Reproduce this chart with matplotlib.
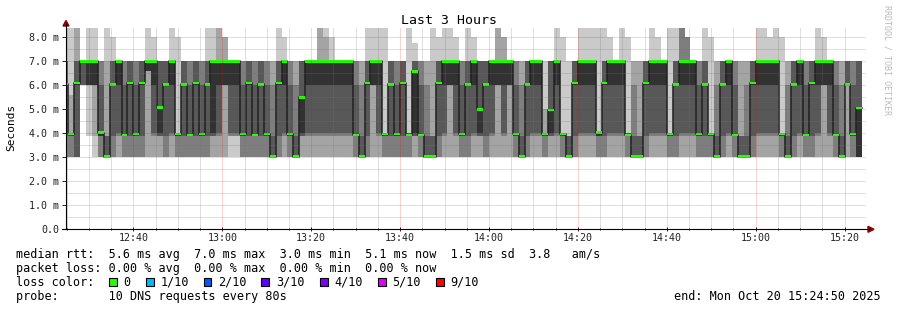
import numpy as np
import matplotlib
matplotlib.use('Agg')
import matplotlib.pyplot as plt
from matplotlib.patches import Polygon, Rectangle
from matplotlib.lines import Line2D

# tiempo en minutos desde las 12:00, una muestra cada 80 s
start_min = 24.0
step_min = 80 / 60.0
view = (24 + 50 / 60.0, 204 + 50 / 60.0)   # 12:24:50 .. 15:24:50

# 10 pings ordenados por columna (ms); ping6 es la mediana
ping1 = [3, 3, 3, 6, 3.9, 3, 3, 3, 3, 3,
         3, 3, 3, 3, 3, 3, 3, 3, 3, 3,
         3, 3, 3, 3, 3, 3, 3, 3, 3, 3,
         3, 3, 3, 3, 3, 3, 3, 3, 3, 3,
         3, 3, 3, 3, 3, 3, 3, 3, 3, 3,
         3, 3, 3, 3, 3, 3, 3, 3, 3, 3,
         3, 3, 3, 3, 3, 3, 3, 3, 3, 3,
         3, 3, 3, 3, 3, 3, 3, 3, 3, 3,
         3, 3, 3, 3, 3, 3, 3, 3, 3, 3,
         3, 3, 3, 3, 3, 3, 3, 3, 3, 3,
         3, 3, 3, 3, 3, 3, 3, 3, 3, 3,
         3, 3, 3, 3, 3, 3, 3, 3, 3, 3,
         3, 3, 3, 3, 3, 3, 3, 3, 3, 3,
         3, 3, 3, 3, 3]
ping2 = [3, 3, 3, 6, 6, 3.9, 3, 3, 3, 3,
         3, 3, 3, 3, 3, 3, 3, 3, 3, 3,
         3, 3, 3, 3, 3, 3, 3, 3, 3.9, 3.9,
         3, 3, 3, 3, 3, 3, 3, 3, 3, 3,
         3, 3, 3, 3, 3, 3, 3, 3, 3, 3,
         3, 3, 3, 3, 3, 3, 3, 3, 3, 3,
         3, 3, 3, 3, 3, 3, 3, 3, 3, 3,
         3, 3, 3, 3, 3, 3, 3, 3, 3, 3,
         3, 3, 3, 3, 3, 3, 3, 3, 3, 3,
         3, 3, 3, 3, 3, 3, 3, 3, 3, 3,
         3, 3, 3, 3, 3, 3, 3, 3, 3, 3,
         3, 3, 3, 3, 3, 3, 3, 3, 3, 3,
         3, 3, 3, 3, 3, 3, 3, 3, 3, 3,
         3, 3, 3, 3, 3]
ping3 = [3, 3, 3, 6, 6, 6, 3, 3, 3, 3.9,
         3, 3, 3, 3, 6.6, 3.9, 3.9, 3, 3.9, 3,
         3, 3, 3, 3, 3, 3.9, 3.9, 6, 3.9, 3.9,
         3, 3, 3, 3, 3, 3, 3, 3.9, 3, 3,
         3.9, 3.9, 3.9, 3.9, 3.9, 3.9, 3.9, 3.9, 3.9, 3,
         3, 3, 6, 3.9, 3, 3, 3, 3, 3, 3.9,
         3, 3, 3, 3, 3.9, 6, 3.9, 3, 3, 3.9,
         3.9, 3, 3.9, 6, 3.9, 6, 3, 3, 3, 3.9,
         3.9, 3, 3.9, 3.9, 3, 3, 3, 3.9, 3.9, 3.9,
         3, 3, 3.9, 3.9, 3.9, 3, 3, 3, 3, 3.9,
         3.9, 3.9, 3, 3, 3.9, 3.9, 3.9, 3, 3, 3,
         3, 3, 3.9, 3, 3, 3, 3, 3.9, 3.9, 3.9,
         3.9, 3, 3, 3, 3.9, 3, 3, 3.9, 6, 3.9,
         3, 3, 6, 3, 3]
ping4 = [3.9, 3.9, 3, 6, 6, 6, 3.9, 3, 3.9, 4,
         3.9, 3.9, 3.9, 3.9, 6.6, 4, 3.9, 3.9, 4, 3.9,
         3.9, 3.9, 3.9, 3.9, 3.9, 3.9, 4, 6, 4, 4,
         3.9, 3.9, 3.9, 3.9, 3.9, 3, 3.9, 4, 3.9, 3,
         3.9, 4, 4, 4, 4, 4, 4, 4, 4, 3.9,
         3, 3.9, 6, 4, 3.9, 3.9, 3.9, 3.9, 3.9, 3.9,
         3.9, 3, 3, 3.9, 4, 6, 4, 3.9, 3.9, 4,
         3.9, 3.9, 4, 6, 4, 6, 3.9, 3, 3.9, 4,
         4, 3.9, 3.9, 4, 3.9, 3, 3.9, 4, 4, 4,
         3.9, 3.9, 4, 4, 4, 3.9, 3, 3, 3.9, 4,
         4, 4, 3.9, 3.9, 4, 4, 4, 3.9, 3.9, 3.9,
         3, 3.9, 4, 3.9, 3, 3, 3.9, 4, 4, 4,
         4, 3.9, 3, 3.9, 4, 3.9, 3.9, 4, 6, 4,
         3.9, 3, 6, 3.9, 3]
ping5 = [6, 3.9, 6, 7, 6, 6, 3.9, 3, 6, 6,
         3.9, 6, 3.9, 6, 6.6, 6, 4, 6, 6, 3.9,
         6, 3.9, 6, 3.9, 6, 4, 6, 6, 6, 6,
         3.9, 6, 3.9, 6, 3.9, 3, 6, 6, 3.9, 3,
         4, 6, 6, 6, 6, 6, 6, 6, 6, 3.9,
         3, 6, 6, 6, 3.9, 6, 3.9, 6, 3.9, 4,
         3.9, 3, 3, 6, 6, 6, 6, 3.9, 6, 6,
         4, 6, 6, 6, 6, 6, 3.9, 3, 6, 6,
         6, 3.9, 4, 6, 3.9, 3, 6, 6, 6, 6,
         3.9, 6, 6, 6, 6, 3.9, 3, 3, 6, 6,
         6, 6, 3.9, 6, 6, 6, 6, 3.9, 6, 3.9,
         3, 6, 6, 3.9, 3, 3, 6, 6, 6, 6,
         6, 3.9, 3, 6, 6, 3.9, 6, 6, 6, 6,
         3.9, 3, 6, 3.9, 3]
ping6 = [6.05, 3.97, 6.1, 7, 7, 7, 4.03, 3.03, 6.04, 7,
         3.92, 6.1, 3.97, 6.1, 7, 7, 5.07, 6.04, 7, 3.96,
         6.04, 3.92, 6.1, 3.96, 6.04, 7, 7, 7, 7, 7,
         3.97, 6.1, 3.92, 6.04, 3.97, 3.03, 6.1, 7, 3.97, 3.03,
         5.5, 7, 7, 7, 7, 7, 7, 7, 7, 3.92,
         3.03, 6.1, 7, 7, 3.96, 6.04, 3.96, 6.1, 3.92, 6.58,
         3.92, 3.03, 3.03, 6.1, 7, 7, 7, 3.96, 6.04, 7,
         5.0, 6.04, 7, 7, 7, 7, 3.96, 3.03, 6.04, 7,
         7, 3.96, 4.96, 7, 3.96, 3.03, 6.1, 7, 7, 7,
         4.03, 6.1, 7, 7, 7, 3.92, 3.03, 3.03, 6.1, 7,
         7, 7, 3.96, 6.04, 7, 7, 7, 3.96, 6.04, 3.96,
         3.03, 6.04, 7, 3.92, 3.03, 3.03, 6.1, 7, 7, 7,
         7, 3.96, 3.03, 6.04, 7, 3.92, 6.1, 7, 7, 7,
         3.92, 3.03, 6.04, 3.96, 5.05]
ping7 = [7, 4, 7, 7, 7, 7, 6, 3.9, 7, 7,
         6, 7, 6, 7, 7, 7, 7, 7, 7, 4,
         7, 6, 7, 6, 7, 7, 7, 7, 7, 7,
         6, 7, 6, 7, 6, 3.9, 7, 7, 6, 3.9,
         7, 7, 7, 7, 7, 7, 7, 7, 7, 6,
         3.9, 7, 7, 7, 4, 7, 6, 7, 4, 7,
         6, 3.9, 3.9, 7, 7, 7, 7, 6, 7, 7,
         7, 7, 7, 7, 7, 7, 6, 3.9, 7, 7,
         7, 4, 7, 7, 4, 3.9, 7, 7, 7, 7,
         4, 7, 7, 7, 7, 4, 3.9, 3.9, 7, 7,
         7, 7, 4, 7, 7, 7, 7, 6, 7, 4,
         3.9, 7, 7, 6, 3.9, 3.9, 7, 7, 7, 7,
         7, 4, 3.9, 7, 7, 6, 7, 7, 7, 7,
         6, 3.9, 7, 6, 7]
ping8 = [7, 4, 7, 7, 7, 7, 7, 3.9, 7, 7,
         7, 7, 7, 7, 7, 7, 7, 7, 7, 4,
         7, 7, 7, 7, 7, 7, 7, 7, 7, 7,
         7, 7, 7, 7, 7, 6, 7, 7, 7, 6,
         7, 7, 7, 7, 7, 7, 7, 7, 7, 7,
         6, 7, 7, 7, 4, 7, 7, 7, 4, 7,
         7, 6, 3.9, 7, 7, 7, 7, 7, 7, 7,
         7, 7, 7, 7, 7, 7, 7, 6, 7, 7,
         7, 4, 7, 7, 4, 3.9, 7, 7, 7, 7,
         4, 7, 7, 7, 7, 4, 6, 3.9, 7, 7,
         7, 7, 4, 7, 8.6, 8, 7, 7, 7, 4,
         6, 7, 7, 7, 3.9, 6, 7, 7, 7, 7,
         7, 4, 6, 7, 7, 7, 7, 7, 7, 7,
         7, 6, 7, 7, 7]
ping9 = [7, 5.6, 8.6, 7, 7, 7, 7, 7, 7, 7,
         7, 7, 7, 7, 7, 7, 7, 7, 7, 4,
         7, 7, 7, 7, 7, 7, 8.6, 8, 7, 7,
         7, 7, 7, 7, 7, 7, 7, 7, 7, 7,
         7, 7, 7, 8.6, 8, 7, 7, 7, 7, 7,
         7, 7, 7, 7, 4, 7, 7, 7, 4, 7,
         7, 7, 7, 7, 7, 7, 7, 7, 7, 7,
         7, 7, 7, 8.6, 8, 7, 7, 7, 7, 7,
         7, 5, 7, 7, 4, 3.9, 7, 7, 7, 7,
         4, 7, 7, 7, 7, 4, 7, 7, 7, 7,
         7, 7, 4, 7, 8.6, 8, 7, 7, 7, 4,
         7, 7, 7, 7, 7, 7, 7, 7, 7, 7,
         7, 4, 7, 7, 7, 7, 7, 7, 7, 7,
         7, 7, 7, 7, 7]
ping10 = [8.6, 8.6, 8.6, 7, 8.6, 8.6, 7, 8.6, 8, 7,
          7, 7, 7, 7, 8.6, 8, 7, 7, 8.6, 8,
          7, 7, 7, 7, 8.6, 8.6, 8.6, 8, 7, 7,
          7, 7, 7, 7, 7, 7, 8.6, 8, 7, 7,
          7, 7, 7, 8.6, 8.6, 8, 7, 7, 7, 7,
          7, 8.6, 8.6, 8.6, 8.6, 7, 7, 7, 8.6, 7.75,
          7, 7, 8.6, 8, 8.6, 8.6, 8, 7, 8.6, 8,
          7, 7, 7, 8.6, 8, 7, 7, 7, 7, 7,
          7, 7, 7, 8.6, 8, 7, 7, 8.6, 8.6, 8.6,
          8.6, 8.6, 8, 7, 8.6, 8, 7, 7, 7, 8.6,
          8, 7, 8.6, 8.6, 8.6, 8, 7, 7, 8.6, 8,
          7, 7, 7, 7, 7, 7, 7, 8.6, 8.6, 8,
          8.6, 8, 7, 7, 7, 7, 7, 8.6, 8, 7,
          7, 7, 7, 7, 7]

x_ticks = [40, 60, 80, 100, 120, 140, 160, 180, 200]
x_labels = ['12:40', '13:00', '13:20', '13:40', '14:00', '14:20', '14:40', '15:00', '15:20']
y_ticks = [0, 1, 2, 3, 4, 5, 6, 7, 8]
y_labels = ['0.0', '1.0 m', '2.0 m', '3.0 m', '4.0 m', '5.0 m', '6.0 m', '7.0 m', '8.0 m']

loss_names = ['0', '1/10', '2/10', '3/10', '4/10', '5/10', '9/10']
loss_colors = ['#26ff00', '#00b8ff', '#0059ff', '#5e00ff', '#7e00ff', '#dd00ff', '#ff0000']

stats_line = 'median rtt:  5.6 ms avg  7.0 ms max  3.0 ms min  5.1 ms now  1.5 ms sd  3.8   am/s'
loss_line = 'packet loss: 0.00 % avg  0.00 % max  0.00 % min  0.00 % now'
probe_line = 'probe:       10 DNS requests every 80s'
end_line = 'end: Mon Oct 20 15:24:50 2025'

plt.rcParams['font.family'] = 'DejaVu Sans Mono'

W, H = 897, 310
def fx(x):
    return x / W
def fy(y):
    return 1 - y / H

fig = plt.figure(figsize=(W / 100, H / 100), dpi=100)
ax = fig.add_axes([fx(66), fy(229.3), 800 / W, 201.6 / H])
ax.set_xlim(view)
ax.set_ylim(0, 8.4)

pings = np.array([ping1, ping2, ping3, ping4, ping5, ping6, ping7, ping8, ping9, ping10])
n = pings.shape[1]
starts = start_min + step_min * np.arange(n)
shades = ['#cacaca', '#a4a4a4', '#7e7e7e', '#585858', '#323232']
for i in range(5):
    lo = pings[i]
    hi = pings[9 - i]
    ax.bar(starts, hi - lo, bottom=lo, width=step_min, align='edge',
           color=shades[i], linewidth=0, antialiased=False, zorder=1)

median = pings[5]
edges = np.append(starts, starts[-1] + step_min)
ax.step(edges, np.append(median, median[-1]), where='post', color='#202020', lw=1.1, zorder=2)
sw = 0.05
ax.bar(starts, 2 * sw, bottom=median - sw, width=step_min, align='edge',
       color=loss_colors[0], linewidth=0, antialiased=False, zorder=3)

# rejilla punteada encima del humo
dots = (0, (1, 1))
for y in np.arange(0.5, 8.4, 0.5):
    if y % 1 == 0:
        ax.axhline(y, color=(1, 0, 0, 0.35), lw=0.72, ls=dots, zorder=4)
    else:
        ax.axhline(y, color=(0.45, 0.45, 0.45, 0.45), lw=0.72, ls=dots, zorder=4)
for x in range(25, 205, 5):
    if x % 20 == 0:
        ax.axvline(x, color=(1, 0, 0, 0.35), lw=0.72, ls=dots, zorder=4)
    else:
        ax.axvline(x, color=(0.45, 0.45, 0.45, 0.45), lw=0.72, ls=dots, zorder=4)

for s in ax.spines.values():
    s.set_visible(False)
ax.set_xticks(x_ticks)
ax.set_xticklabels(x_labels)
ax.set_yticks(y_ticks)
ax.set_yticklabels(y_labels)
ax.set_xticks(range(25, 205, 5), minor=True)
ax.tick_params(axis='y', length=3, width=0.7, pad=2, labelsize=7.2, colors='#222222')
ax.tick_params(axis='x', which='major', length=3, width=0.7, pad=1.5, labelsize=7.2,
               direction='inout', colors='#222222')
ax.tick_params(axis='x', which='minor', length=2, width=0.7, direction='inout')

# ejes con flechas
fig.add_artist(Line2D([fx(66), fx(66)], [fy(229.3), fy(24)], color='black', lw=0.8))
fig.add_artist(Line2D([fx(62), fx(870)], [fy(229.3), fy(229.3)], color='black', lw=0.8))
fig.add_artist(Polygon([(fx(63), fy(26)), (fx(69), fy(26)), (fx(66), fy(20.5))],
                       closed=True, color='#8b0000', transform=fig.transFigure))
fig.add_artist(Polygon([(fx(868), fy(226.3)), (fx(868), fy(232.3)), (fx(874), fy(229.3))],
                       closed=True, color='#8b0000', transform=fig.transFigure))

fig.text(fx(448.5), fy(20), 'Last 3 Hours', ha='center', va='center', fontsize=9.5)
fig.text(fx(11), fy(127), 'Seconds', rotation=90, ha='center', va='center', fontsize=8)
fig.text(fx(887), fy(60), 'RRDTOOL / TOBI OETIKER', rotation=270, ha='center', va='center',
         fontsize=6, color='#bbbbbb')

fig.text(fx(16), fy(254.3), stats_line, ha='left', va='center', fontsize=8.5)
fig.text(fx(16), fy(268.3), loss_line, ha='left', va='center', fontsize=8.5)
fig.text(fx(16), fy(282.3), 'loss color:', ha='left', va='center', fontsize=8.5)
box_x = [109, 146, 203.5, 261, 320, 378, 436]
label_x = [123, 161, 218, 276, 334, 392, 450]
for bx, lx, name, col in zip(box_x, label_x, loss_names, loss_colors):
    fig.add_artist(Rectangle((fx(bx), fy(286.3)), 7.5 / W, 8 / H, facecolor=col,
                             edgecolor='black', lw=0.8, transform=fig.transFigure))
    fig.text(fx(lx), fy(282.3), name, ha='left', va='center', fontsize=8.5)
fig.text(fx(16), fy(296.2), probe_line, ha='left', va='center', fontsize=8.5)
fig.text(fx(880.5), fy(296.2), end_line, ha='right', va='center', fontsize=8.5)

fig.savefig('out.png', dpi=100)
